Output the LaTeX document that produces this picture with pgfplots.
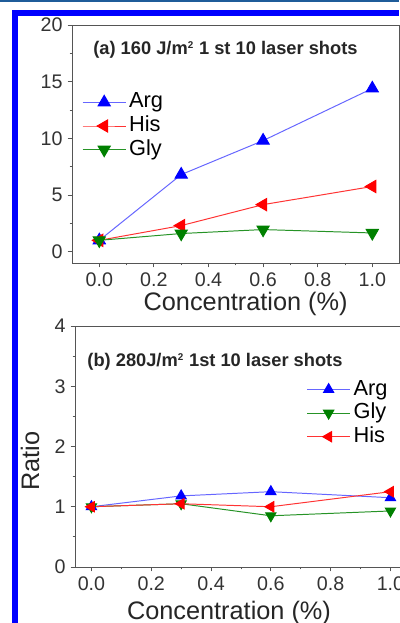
\documentclass[border=0pt]{standalone}
\usepackage{pgfplots}
\pgfplotsset{compat=1.18}
\usepackage{fontspec}
\setmainfont{Liberation Sans}
\definecolor{axisgray}{HTML}{555555}
\definecolor{borderblue}{HTML}{0000FF}
\definecolor{topline}{HTML}{1F5C99}
\definecolor{cgreen}{HTML}{008000}
\definecolor{cblue}{HTML}{0000FF}
\definecolor{cred}{HTML}{FF0000}
\begin{document}
\begin{tikzpicture}
\useasboundingbox (0,0) rectangle (99.75mm,155.75mm);
\fill[white] (0,0) rectangle (99.75mm,155.75mm);
\pgfplotsset{common/.style={
  scale only axis,
  axis line style={axisgray, line width=0.6pt},
  tick style={axisgray, line width=0.6pt},
  tick align=outside, tick pos=left,
  major tick length=1.1mm, minor tick length=0.6mm,
  minor x tick num=1, minor y tick num=1,
  ticklabel style={font=\fontsize{14}{14}\selectfont, text=black!80},
  /pgf/number format/assume math mode=true,
  xtick={0,0.2,0.4,0.6,0.8,1.0},
  x tick label style={/pgf/number format/.cd, fixed, fixed zerofill, precision=1},
  legend style={draw=none, fill=none, font=\fontsize{15.5}{15.5}\selectfont, row sep=0.9mm, inner sep=0pt,
    nodes={inner xsep=2pt, inner ysep=0pt, text height=3.9mm, text depth=1.1mm}},
  legend cell align=left,
  legend image code/.code={\draw[mark repeat=2,mark phase=2,##1] plot coordinates {(0mm,0mm) (5.4mm,0mm) (10.8mm,0mm)};},
  label style={font=\fontsize{18}{18}\selectfont, text=black!85},
  clip=false,
}}
% ---------- top panel ----------
\begin{axis}[common,
  at={(18mm,149.5mm)}, anchor=north west,
  width=81.9mm, height=59.5mm,
  xmin=-0.1, xmax=1.1, ymin=-1, ymax=20,
  ytick={0,5,10,15,20},
  xlabel={Concentration (\%)},
  xlabel style={at={(rel axis cs:0.53,-0.172)}, anchor=center},
  legend style={at={(rel axis cs:0.03,0.718)}, anchor=north west},
]
\addplot[blue!60, line width=0.7pt, mark=triangle*, mark size=5pt, mark options={fill=cblue, draw=cblue}]
  coordinates {(0,1) (0.3,6.8) (0.6,9.8) (1.0,14.4)};
\addlegendentry{Arg}
\addplot[cred!80, line width=0.7pt, mark=triangle*, mark size=5pt, mark options={rotate=90, fill=cred, draw=cred}]
  coordinates {(0,1) (0.3,2.3) (0.6,4.15) (1.0,5.75)};
\addlegendentry{His}
\addplot[cgreen!85, line width=0.7pt, mark=triangle*, mark size=5pt, mark options={rotate=180, fill=cgreen, draw=cgreen}]
  coordinates {(0,1) (0.3,1.6) (0.6,1.95) (1.0,1.65)};
\addlegendentry{Gly}
\node[anchor=west, font=\bfseries\fontsize{13}{13}\selectfont, text=black!85] at (axis cs:-0.04,17.8) {(a) 160 J/m\textsuperscript{\scriptsize 2} 1 st 10 laser shots};
\end{axis}
% ---------- bottom panel ----------
\begin{axis}[common,
  at={(18.75mm,74.25mm)}, anchor=north west,
  width=82.6mm, height=60.25mm,
  xmin=-0.055, xmax=1.05, ymin=0, ymax=4,
  ytick={0,1,2,3,4},
  xlabel={Concentration (\%)},
  xlabel style={at={(rel axis cs:0.466,-0.19)}, anchor=center},
  ylabel={Ratio},
  ylabel style={at={(rel axis cs:-0.136,0.44)}, anchor=center},
  legend style={at={(rel axis cs:0.70,0.779)}, anchor=north west},
]
\addplot[blue!60, line width=0.7pt, mark=triangle*, mark size=4.2pt, mark options={fill=cblue, draw=cblue}]
  coordinates {(0,1) (0.3,1.18) (0.6,1.25) (1.0,1.15)};
\addlegendentry{Arg}
\addplot[cgreen!85, line width=0.7pt, mark=triangle*, mark size=4.2pt, mark options={rotate=180, fill=cgreen, draw=cgreen}]
  coordinates {(0,1) (0.3,1.05) (0.6,0.85) (1.0,0.93)};
\addlegendentry{Gly}
\addplot[cred!80, line width=0.7pt, mark=triangle*, mark size=4.2pt, mark options={rotate=90, fill=cred, draw=cred}]
  coordinates {(0,1) (0.3,1.05) (0.6,1.0) (1.0,1.25)};
\addlegendentry{His}
\node[anchor=west, font=\bfseries\fontsize{13}{13}\selectfont, text=black!85] at (axis cs:-0.03,3.4) {(b) 280J/m\textsuperscript{\scriptsize 2} 1st 10 laser shots};
\end{axis}
% ---------- page frame of the reference ----------
\fill[topline] (0,155.25mm) rectangle (99.75mm,155.75mm);
\fill[borderblue] (3mm,0) rectangle (4.5mm,153.25mm);
\fill[borderblue] (3mm,151.75mm) rectangle (99.75mm,153.25mm);
\end{tikzpicture}
\end{document}
